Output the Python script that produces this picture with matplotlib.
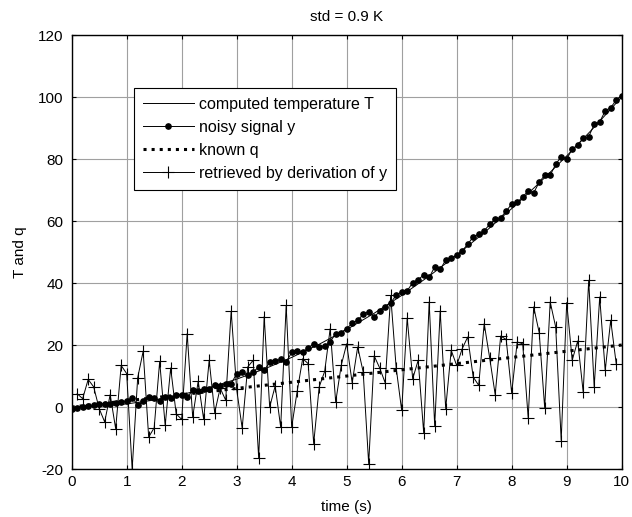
import numpy as np
import matplotlib
matplotlib.use("Agg")
import matplotlib.pyplot as plt

plt.rcParams['font.family'] = ['Liberation Sans', 'DejaVu Sans']
plt.rcParams['axes.unicode_minus'] = False

# computed temperature T (read at 0.5 s steps)
t_T = [0, 0.5, 1, 1.5, 2, 2.5, 3, 3.5, 4, 4.5, 5, 5.5, 6, 6.5, 7, 7.5, 8, 8.5, 9, 9.5, 10]
T_vals = [0, 0.25, 1, 2.25, 4, 6.25, 9, 12.25, 16, 20.25, 25, 30.25, 36, 42.25, 49,
          56.25, 64, 72.25, 81, 90.25, 100]

# noisy signal y, one sample every 0.1 s from 0 to 10
t_y = [round(0.1 * i, 1) for i in range(101)]
y_vals = [-0.75, -0.3, 0.0, 0.3, 0.75, 1.1, 1.1, 1.1, 1.4, 1.6,
          2.0, 2.9, 0.75, 1.8, 3.2, 2.9, 1.8, 3.2, 2.9, 3.8,
          4.0, 3.2, 5.4, 5.1, 5.7, 5.7, 7.0, 6.8, 7.5, 7.5,
          10.8, 11.3, 10.2, 11.3, 12.9, 11.8, 14.5, 14.7, 15.4, 14.5,
          17.6, 18.0, 17.7, 19.0, 20.4, 19.4, 19.7, 21.0, 23.7, 24.0,
          25.3, 27.0, 28.0, 29.9, 30.8, 29.0, 30.9, 32.3, 33.7, 36.0,
          37.2, 37.5, 40.1, 41.1, 42.6, 41.8, 45.2, 44.4, 47.4, 48.0,
          49.0, 50.4, 52.5, 54.9, 55.7, 56.9, 58.9, 60.6, 61.1, 63.2,
          65.5, 66.0, 67.8, 69.7, 69.1, 72.5, 74.8, 74.8, 78.3, 80.8,
          80.0, 83.2, 84.5, 86.7, 87.2, 91.2, 92.0, 95.5, 96.6, 99.0,
          100.4]

# known q (linear)
t_q = [0, 10]
q_vals = [0, 20]

# retrieved by derivation of y (t = 0.1 ... 9.9)
t_r = [round(0.1 * i, 1) for i in range(1, 100)]
r_vals = [4.3, 2.7, 8.9, 6.5, -0.5, -4.8, 4.0, -7.0, 13.4, 10.8,
          -20.0, 9.4, 18.0, -9.7, -6.7, 14.7, -5.9, 12.6, -2.2, -4.0,
          23.7, -3.2, 8.3, -4.0, 15.1, -1.8, 6.1, 2.2, 30.9, 5.7,
          -6.8, 12.9, 15.1, -16.5, 29.2, 0.0, 6.8, -6.5, 32.8, -6.5,
          5.1, 15.6, 14.0, -11.8, 6.5, 11.5, 25.3, 1.6, 13.4, 20.4,
          7.8, 19.4, 11.3, -18.3, 16.5, 12.6, 7.8, 36.0, 12.6, -1.1,
          28.7, 9.1, 15.1, -8.3, 33.9, -6.1, 31.0, -0.5, 18.3, 13.4,
          18.8, 22.6, 9.7, 7.0, 26.9, 15.8, 4.0, 22.9, 21.8, 4.5,
          21.0, 20.4, -3.5, 32.3, 24.0, -0.3, 33.9, 25.8, -10.8, 33.7,
          15.1, 21.3, 4.8, 40.9, 6.5, 35.5, 11.8, 28.0, 14.0]

FS = 11
LFS = 11.5

fig = plt.figure(figsize=(6.32, 5.17), dpi=100)
ax = fig.add_axes([0.1134, 0.0928, 0.8703, 0.8394])

ax.plot(t_T, T_vals, '-', color='black', lw=0.7, label='computed temperature T')
ax.plot(t_y, y_vals, '-', color='black', lw=0.7, marker='o', ms=3.8,
        label='noisy signal y')
ax.plot(t_q, q_vals, ':', color='black', lw=2.2, label='known q')
ax.plot(t_r, r_vals, '-', color='black', lw=0.7, marker='+', ms=8, mew=0.8,
        label='retrieved by derivation of y')

ax.set_xlim(0, 10)
ax.set_ylim(-20, 120)
ax.set_xticks(range(0, 11))
ax.set_yticks(range(-20, 121, 20))
ax.grid(True, color='#a0a0a0', lw=0.8)
ax.set_axisbelow(True)
ax.tick_params(direction='in', top=True, right=True, length=3, labelsize=FS)
ax.tick_params(axis='x', pad=4.5)
ax.tick_params(axis='y', pad=6)
for s in ax.spines.values():
    s.set_linewidth(1.0)

ax.set_xlabel('time (s)', fontsize=FS, labelpad=8)
ax.set_ylabel('T and q', fontsize=FS, labelpad=8)
ax.set_title('std = 0.9 K', fontsize=FS, pad=10)

leg = ax.legend(loc='upper left', bbox_to_anchor=(0.1133, 0.878), borderaxespad=0,
                fancybox=False, framealpha=1, edgecolor='black', fontsize=LFS,
                handlelength=3.2, handletextpad=0.35, labelspacing=0.5,
                borderpad=0.55)
leg.get_frame().set_linewidth(0.8)

fig.savefig('out.png', dpi=100)
